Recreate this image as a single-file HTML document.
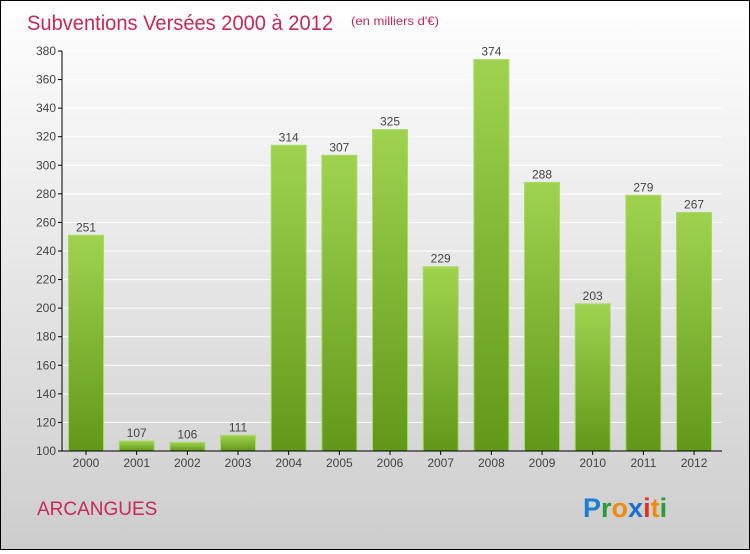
<!DOCTYPE html>
<html><head><meta charset="utf-8"><style>
html,body{margin:0;padding:0}
body{width:750px;height:550px;overflow:hidden;font-family:"Liberation Sans",sans-serif}
#wrap{position:absolute;left:0;top:0;width:748px;height:548px;border:1px solid #000;background:linear-gradient(#ffffff,#f0f0f0 30%,#cdcdcd)}
</style></head><body>
<div id="wrap">
<svg id="chart" width="748" height="548" xmlns="http://www.w3.org/2000/svg">
<defs><linearGradient id="bg" x1="0" y1="0" x2="0" y2="1"><stop offset="0" stop-color="#9fd34f"/><stop offset="1" stop-color="#62981a"/></linearGradient></defs>
<text x="26" y="29" font-size="21" fill="#c8285a" textLength="306" lengthAdjust="spacingAndGlyphs">Subventions Versées 2000 à 2012</text>
<text x="350" y="24" font-size="12" fill="#c8285a" textLength="88" lengthAdjust="spacingAndGlyphs">(en milliers d'€)</text>
<text x="36" y="514" font-size="19" fill="#c8285a">ARCANGUES</text>
<g font-size="27" font-weight="bold" font-family="Liberation Sans, sans-serif">
<text x="582" y="516"><tspan fill="#1a7fd4">P</tspan><tspan fill="#2a9a3a">r</tspan><tspan fill="#f08a10">o</tspan><tspan fill="#1a6fd0">x</tspan><tspan fill="#e03020">i</tspan><tspan fill="#f08a10">t</tspan><tspan fill="#2a9a3a">i</tspan></text>
</g>
<g id="plot"></g>
</svg>
</div>
<script>
const categories=["2000","2001","2002","2003","2004","2005","2006","2007","2008","2009","2010","2011","2012"];
const values=[251,107,106,111,314,307,325,229,374,288,203,279,267];
const yTicks=[100,120,140,160,180,200,220,240,260,280,300,320,340,360,380];
const yMin=100,yMax=380;
const NS="http://www.w3.org/2000/svg";
const g=document.getElementById('plot');
const y=v=>450-(v-yMin)/(yMax-yMin)*400;
const x=i=>85+i*50.67;
function mk(t,a){const e=document.createElementNS(NS,t);for(const k in a)e.setAttribute(k,a[k]);g.appendChild(e);return e;}
yTicks.forEach(t=>{
 const l=mk('line',{x1:61,x2:721,y1:y(t),y2:y(t),stroke:'#ffffff','stroke-width':1});
 
 
 const tk=mk('line',{x1:57,x2:61,y1:y(t),y2:y(t),stroke:'#000'});
 
 
 const tx=mk('text',{x:55,y:y(t)+4,'font-size':12,fill:'#444','text-anchor':'end'});
 tx.textContent=t;
 
 
});
values.forEach((v,i)=>{
 const r=mk('rect',{x:x(i)-17.5,y:y(v),width:35,height:450-y(v),fill:'url(#bg)',stroke:'#a8dc68','stroke-width':1});
 
 
 const vt=mk('text',{x:x(i),y:y(v)-4,'font-size':12,fill:'#444','text-anchor':'middle'});
 vt.textContent=v;
 
 
 const ct=mk('text',{x:x(i),y:466,'font-size':12,fill:'#444','text-anchor':'middle'});
 ct.textContent=categories[i];
 
 
 const tk=mk('line',{x1:x(i),x2:x(i),y1:450,y2:454,stroke:'#000'});
 
 
});
const ya=mk('line',{x1:61,x2:61,y1:50,y2:450,stroke:'#000'});


const xa=mk('line',{x1:61,x2:721,y1:450,y2:450,stroke:'#000'});


</script>
</body></html>
